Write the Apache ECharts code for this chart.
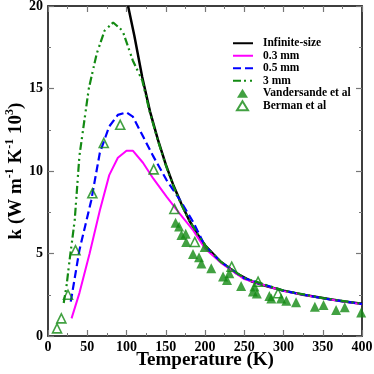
<!DOCTYPE html>
<html>
<head>
    <meta charset="utf-8">
    <script src="https://cdn.jsdelivr.net/npm/echarts@6/dist/echarts.min.js"></script>
</head>
<body style="margin:0">
    <div id="main" style="width: 374px;height:374px;"></div>
    <script>
        // data (T in K, k in W m-1 K-1 10^3)
        var infiniteT = [102, 110, 120, 130, 140, 150, 160, 170, 180, 190, 200, 220, 240, 260, 280, 300, 325, 350, 375, 400];
        var infiniteK = [20, 18.2, 15.7, 13.6, 11.9, 10.4, 9.1, 8.0, 7.0, 6.2, 5.5, 4.5, 3.8, 3.3, 3.0, 2.75, 2.5, 2.3, 2.1, 1.95];

        var mm03T = [30, 40, 53, 66, 78, 89, 100, 108, 121, 134, 151, 168, 185, 200, 220, 250, 300, 350, 400];
        var mm03K = [1.07, 2.6, 5.0, 7.6, 9.75, 10.8, 11.23, 11.23, 10.5, 9.55, 8.45, 7.4, 6.4, 5.3, 4.45, 3.45, 2.72, 2.28, 1.93];

        var mm05T = [29, 40, 55, 66, 78, 89, 100, 108, 121, 134, 151, 168, 185, 200, 220, 250, 300, 350, 400];
        var mm05K = [2.08, 5.2, 8.2, 11.1, 12.7, 13.4, 13.55, 13.3, 12.1, 10.9, 9.45, 8.25, 6.9, 5.45, 4.5, 3.5, 2.74, 2.28, 1.94];

        var mm3T = [20, 23.5, 27.5, 34, 40, 52, 62, 72, 83, 95, 108, 120, 130, 140, 150, 160, 170, 180, 190, 200, 220, 250, 300, 350, 400];
        var mm3K = [2.0, 3.0, 4.6, 7.0, 10.9, 15.0, 17.1, 18.5, 19.0, 18.5, 16.7, 15.5, 13.5, 11.85, 10.35, 9.05, 7.95, 7.0, 6.2, 5.5, 4.5, 3.52, 2.75, 2.3, 1.95];

        var vandT = [162.5, 167, 170, 175.4, 176, 184.7, 192.4, 195.4, 199.6, 208, 223, 228, 231, 246, 263, 261, 266, 282, 284.5, 297, 303.6, 316, 340, 351, 367, 378, 399];
        var vandK = [6.87, 6.63, 6.12, 6.2, 5.7, 4.97, 4.77, 4.4, 5.4, 4.1, 3.6, 3.4, 3.8, 3.03, 3.0, 2.7, 2.58, 2.42, 2.28, 2.28, 2.14, 2.05, 1.78, 1.88, 1.58, 1.74, 1.43];

        var bermT = [11.5, 17, 25.5, 35, 56.5, 71, 92, 134.6, 161, 187, 234, 267.6, 293];
        var bermK = [0.46, 1.07, 2.5, 5.2, 8.65, 11.7, 12.8, 10.1, 7.7, 5.7, 4.2, 3.29, 2.59];

        function pairs(xs, ys) {
            return xs.map(function (x, i) { return [x, ys[i]]; });
        }

        var green = '#138a13';
        var font = 'Liberation Serif';

        var myChart = echarts.init(document.getElementById('main'));

        // fresh axis object each time, ticks inward on all four sides
        function axis(extra) {
            var base = {
                type: 'value',
                axisLine: { show: true, onZero: false, lineStyle: { color: '#333', width: 1.5 } },
                axisTick: { show: true, inside: true, length: 6, lineStyle: { color: '#777', width: 1.2 } },
                minorTick: { show: true, splitNumber: 2, length: 3, lineStyle: { color: '#777', width: 1 } },
                splitLine: { show: false },
                axisLabel: { show: false }
            };
            return Object.assign(base, extra);
        }

        var legendText = { fontFamily: font, fontWeight: 'bold', fontSize: 11.5, color: '#000', lineHeight: 12.5 };

        var option = {
            animation: false,
            title: { text: ' ', left: 0, top: 0 },
            grid: {
                left: 48, right: 12, top: 6, bottom: 38, outerBoundsMode: 'none',
                show: true, borderColor: '#333', borderWidth: 1.5, backgroundColor: 'rgba(0,0,0,0)'
            },
            legend: [
                {
                    orient: 'vertical',
                    left: 227,
                    top: 32,
                    itemWidth: 20,
                    itemHeight: 9,
                    itemGap: 0,
                    textStyle: Object.assign({}, legendText, { padding: [0, 0, 0, 5] }),
                    data: [
                        { name: 'Infinite-size', itemStyle: { opacity: 0 } },
                        { name: '0.3 mm', itemStyle: { opacity: 0 } },
                        { name: '0.5 mm', itemStyle: { opacity: 0 } },
                        { name: '3 mm', itemStyle: { opacity: 0 } }
                    ]
                },
                {
                    orient: 'vertical',
                    left: 231,
                    top: 82,
                    itemWidth: 11,
                    itemHeight: 9,
                    itemGap: 0,
                    textStyle: Object.assign({}, legendText, { padding: [0, 0, 0, 10] }),
                    data: ['Vandersande et al', 'Berman et al']
                }
            ],
            xAxis: [
                axis({
                    min: 0, max: 400, interval: 50,
                    position: 'bottom',
                    name: 'Temperature (K)',
                    nameLocation: 'middle',
                    nameGap: 15,
                    nameMoveOverlap: false,
                    nameTextStyle: { fontFamily: font, fontWeight: 'bold', fontSize: 19, color: '#000' },
                    axisLabel: {
                        show: true, margin: 4,
                        fontFamily: font, fontWeight: 'bold', fontSize: 14, color: '#000'
                    }
                }),
                axis({ min: 0, max: 400, interval: 50, position: 'top' })
            ],
            yAxis: [
                axis({
                    min: 0, max: 20, interval: 5,
                    position: 'left',
                    name: '{b|k (W m}{s|-1}{b| K}{s|-1}{b| 10}{s|3}{b|)}',
                    nameLocation: 'middle',
                    nameRotate: 90,
                    nameGap: 22,
                    nameMoveOverlap: false,
                    nameTextStyle: {
                        rich: {
                            b: { fontFamily: font, fontWeight: 'bold', fontSize: 19, color: '#000', lineHeight: 22, verticalAlign: 'bottom' },
                            s: { fontFamily: font, fontWeight: 'bold', fontSize: 12, color: '#000', lineHeight: 22, verticalAlign: 'top' }
                        }
                    },
                    axisLabel: {
                        show: true, margin: 5,
                        fontFamily: font, fontWeight: 'bold', fontSize: 14, color: '#000'
                    }
                }),
                axis({ min: 0, max: 20, interval: 5, position: 'right' })
            ],
            series: [
                {
                    name: 'Infinite-size', type: 'line', symbol: 'none', z: 3,
                    data: pairs(infiniteT, infiniteK),
                    lineStyle: { color: '#000', width: 2.5 },
                    itemStyle: { color: '#000' }
                },
                {
                    name: '0.3 mm', type: 'line', symbol: 'none', z: 4,
                    data: pairs(mm03T, mm03K),
                    lineStyle: { color: '#ff00ff', width: 2 },
                    itemStyle: { color: '#ff00ff' }
                },
                {
                    name: '0.5 mm', type: 'line', symbol: 'none', z: 5,
                    data: pairs(mm05T, mm05K),
                    lineStyle: { color: '#0000ff', width: 2.2, type: [8, 4] },
                    itemStyle: { color: '#0000ff' }
                },
                {
                    name: '3 mm', type: 'line', symbol: 'none', z: 6,
                    data: pairs(mm3T, mm3K),
                    lineStyle: { color: green, width: 2.2, type: [8, 3, 2, 4, 2, 3] },
                    itemStyle: { color: green }
                },
                {
                    name: 'Vandersande et al', type: 'scatter', symbol: 'triangle', symbolSize: 10, z: 7,
                    data: pairs(vandT, vandK),
                    itemStyle: { color: green }
                },
                {
                    name: 'Berman et al', type: 'scatter', symbol: 'triangle', symbolSize: 9, z: 8,
                    data: pairs(bermT, bermK),
                    itemStyle: { color: 'rgba(255,255,255,0)', borderColor: green, borderWidth: 1.6 }
                }
            ]
        };

        myChart.setOption(option);
    </script>
</body>
</html>
